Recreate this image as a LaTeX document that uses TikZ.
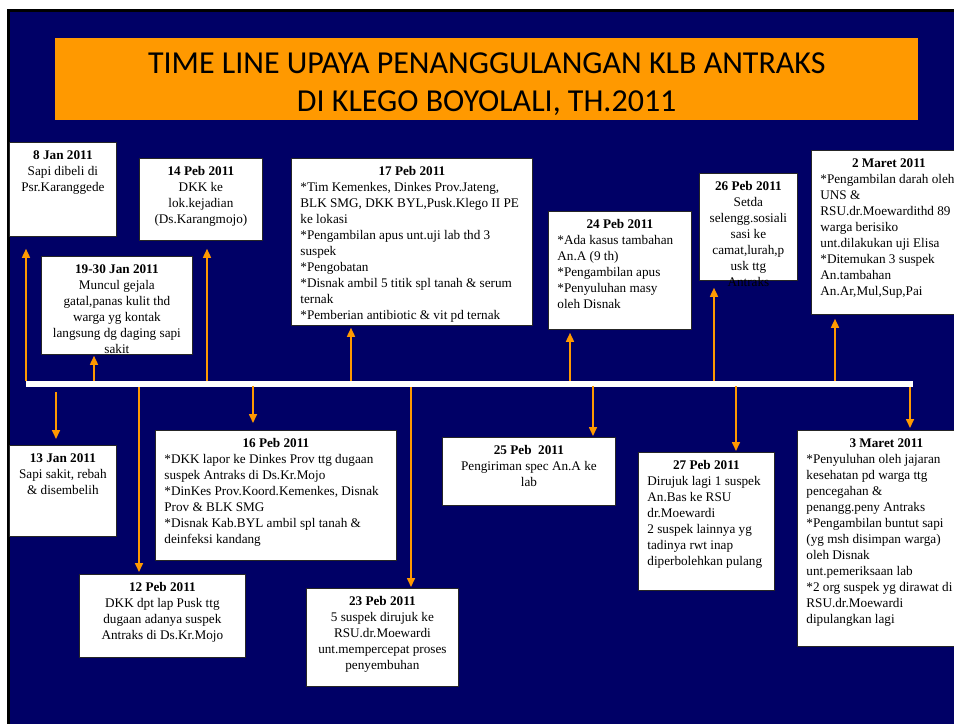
\documentclass[tikz,border=0pt]{standalone}
\usepackage{fontspec}
\setmainfont{Liberation Serif}
\newfontfamily\titlefont{Carlito}
\usetikzlibrary{arrows.meta}
\definecolor{navy}{RGB}{0,0,102}
\definecolor{tlorange}{RGB}{255,153,0}
\newcommand{\ctrline}[1]{\hbox to\linewidth{\hss#1\hss}}
\newcommand{\lftline}[1]{\hbox to\linewidth{#1\hss}}
\newcommand{\evtbox}[6]{%
  \node[evbox, anchor=north west] (#1) at (#2,#3)
   {\parbox[c][#5pt][t]{\dimexpr #4pt-18pt\relax}{\vspace*{8pt}#6}};}
\begin{document}
\begin{tikzpicture}[x=1pt,y=-1pt,
  evbox/.style={draw=black!85, line width=0.8pt, fill=white, inner xsep=9pt, inner ysep=0pt,
    font=\fontsize{13.2}{16}\selectfont, text=black},
  arr/.style={draw=tlorange, line width=1.6pt, -{Triangle[width=8pt,length=9pt]}},
  barstyle/.style={fill=white, inner sep=0pt, minimum width=887pt, minimum height=6pt}]
\useasboundingbox (0,0) rectangle (954,724);
\fill[white] (0,0) rectangle (954,724);
\fill[black] (7,9) rectangle (954,724);
\fill[navy] (10,12) rectangle (954,724);
% title
\node[fill=tlorange, minimum width=863pt, minimum height=82pt, anchor=north west, inner sep=0pt,
  align=center, font=\titlefont\fontsize{32}{38}\selectfont] (title) at (55,38)
  {\rule{0pt}{30pt}TIME LINE UPAYA PENANGGULANGAN KLB ANTRAKS\\DI KLEGO BOYOLALI, TH.2011};
% time bar
\node[barstyle, anchor=north west] (bar) at (26,381) {};
% upper boxes
\evtbox{n1}{9}{142}{107}{94}{\ctrline{\textbf{8 Jan 2011}}\ctrline{Sapi dibeli di}\ctrline{Psr.Karanggede}}
\evtbox{n2}{139}{158}{123}{82}{\ctrline{\textbf{14 Peb 2011}}\ctrline{DKK ke}\ctrline{lok.kejadian}\ctrline{(Ds.Karangmojo)}}
\evtbox{n3}{41}{256}{151}{98}{\ctrline{\textbf{19-30 Jan 2011}}\ctrline{Muncul gejala}\ctrline{gatal,panas kulit thd}\ctrline{warga yg kontak}\ctrline{langsung dg daging sapi}\ctrline{sakit}}
\evtbox{n4}{291}{158}{241}{167}{\ctrline{\textbf{17 Peb 2011}}\lftline{*Tim Kemenkes, Dinkes Prov.Jateng,}\lftline{BLK SMG, DKK BYL,Pusk.Klego II PE}\lftline{ke lokasi}\lftline{*Pengambilan apus unt.uji lab thd 3}\lftline{suspek}\lftline{*Pengobatan}\lftline{*Disnak ambil 5 titik spl tanah \& serum}\lftline{ternak}\lftline{*Pemberian antibiotic \& vit pd ternak}}
\evtbox{n5}{548}{211}{143}{118}{\ctrline{\textbf{24 Peb 2011}}\lftline{*Ada kasus tambahan}\lftline{An.A (9 th)}\lftline{*Pengambilan apus}\lftline{*Penyuluhan masy}\lftline{oleh Disnak}}
\evtbox{n6}{699}{173}{98}{107}{\ctrline{\textbf{26 Peb 2011}}\ctrline{Setda}\ctrline{selengg.sosiali}\ctrline{sasi ke}\ctrline{camat,lurah,p}\ctrline{usk ttg}\ctrline{Antraks}}
\evtbox{n7}{811}{150}{155}{164}{\ctrline{\textbf{2 Maret 2011}}\lftline{*Pengambilan darah oleh}\lftline{UNS \&}\lftline{RSU.dr.Moewardithd 89}\lftline{warga berisiko}\lftline{unt.dilakukan uji Elisa}\lftline{*Ditemukan 3 suspek}\lftline{An.tambahan}\lftline{An.Ar,Mul,Sup,Pai}}
% lower boxes
\evtbox{n8}{9}{445}{107}{91}{\ctrline{\textbf{13 Jan 2011}}\ctrline{Sapi sakit, rebah}\ctrline{\& disembelih}}
\evtbox{n9}{155}{430}{241}{130}{\ctrline{\textbf{16 Peb 2011}}\lftline{*DKK lapor ke Dinkes Prov ttg dugaan}\lftline{suspek Antraks di Ds.Kr.Mojo}\lftline{*DinKes Prov.Koord.Kemenkes, Disnak}\lftline{Prov \& BLK SMG}\lftline{*Disnak Kab.BYL ambil spl tanah \&}\lftline{deinfeksi kandang}}
\evtbox{n10}{79}{574}{166}{83}{\ctrline{\textbf{12 Peb 2011}}\ctrline{DKK dpt lap Pusk ttg}\ctrline{dugaan adanya suspek}\ctrline{Antraks di Ds.Kr.Mojo}}
\evtbox{n11}{306}{588}{152}{98}{\ctrline{\textbf{23 Peb 2011}}\ctrline{5 suspek dirujuk ke}\ctrline{RSU.dr.Moewardi}\ctrline{unt.mempercepat proses}\ctrline{penyembuhan}}
\evtbox{n12}{442}{437}{173}{68}{\ctrline{\textbf{25 Peb\ \ 2011}}\ctrline{Pengiriman spec An.A ke}\ctrline{lab}}
\evtbox{n13}{638}{452}{136}{138}{\ctrline{\textbf{27 Peb 2011}}\lftline{Dirujuk lagi 1 suspek}\lftline{An.Bas ke RSU}\lftline{dr.Moewardi}\lftline{2 suspek lainnya yg}\lftline{tadinya rwt inap}\lftline{diperbolehkan pulang}}
\evtbox{n14}{797}{430}{178}{216}{\ctrline{\textbf{3 Maret 2011}}\lftline{*Penyuluhan oleh jajaran}\lftline{kesehatan pd warga ttg}\lftline{pencegahan \&}\lftline{penangg.peny Antraks}\lftline{*Pengambilan buntut sapi}\lftline{(yg msh disimpan warga)}\lftline{oleh Disnak}\lftline{unt.pemeriksaan lab}\lftline{*2 org suspek yg dirawat di}\lftline{RSU.dr.Moewardi}\lftline{dipulangkan lagi}}
% arrow start points on the bar
\coordinate (u1) at (26,381);
\coordinate (u2) at (94,381);
\coordinate (u3) at (207,381);
\coordinate (u4) at (351,381);
\coordinate (u5) at (570,381);
\coordinate (u6) at (714,381);
\coordinate (u7) at (835,381);
\coordinate (d1) at (56,392);
\coordinate (d2) at (139,387);
\coordinate (d3) at (253,386);
\coordinate (d4) at (411,387);
\coordinate (d5) at (593,386);
\coordinate (d6) at (736,386);
\coordinate (d7) at (910,387);
% upward arrows
\draw[arr, shorten >=12pt] (u1) -- (u1 |- n1.south);
\draw[arr, shorten >=1pt] (u2) -- (u2 |- n3.south);
\draw[arr, shorten >=8pt] (u3) -- (u3 |- n2.south);
\draw[arr, shorten >=2pt] (u4) -- (u4 |- n4.south);
\draw[arr, shorten >=3pt] (u5) -- (u5 |- n5.south);
\draw[arr, shorten >=7pt] (u6) -- (u6 |- n6.south);
\draw[arr, shorten >=4pt] (u7) -- (u7 |- n7.south);
% downward arrows
\draw[arr, shorten >=6pt] (d1) -- (d1 |- n8.north);
\draw[arr, shorten >=2pt] (d2) -- (d2 |- n10.north);
\draw[arr, shorten >=7pt] (d3) -- (d3 |- n9.north);
\draw[arr, shorten >=1pt] (d4) -- (d4 |- n11.north);
\draw[arr, shorten >=1pt] (d5) -- (d5 |- n12.north);
\draw[arr, shorten >=1pt] (d6) -- (d6 |- n13.north);
\draw[arr, shorten >=2pt] (d7) -- (d7 |- n14.north);
\end{tikzpicture}
\end{document}
